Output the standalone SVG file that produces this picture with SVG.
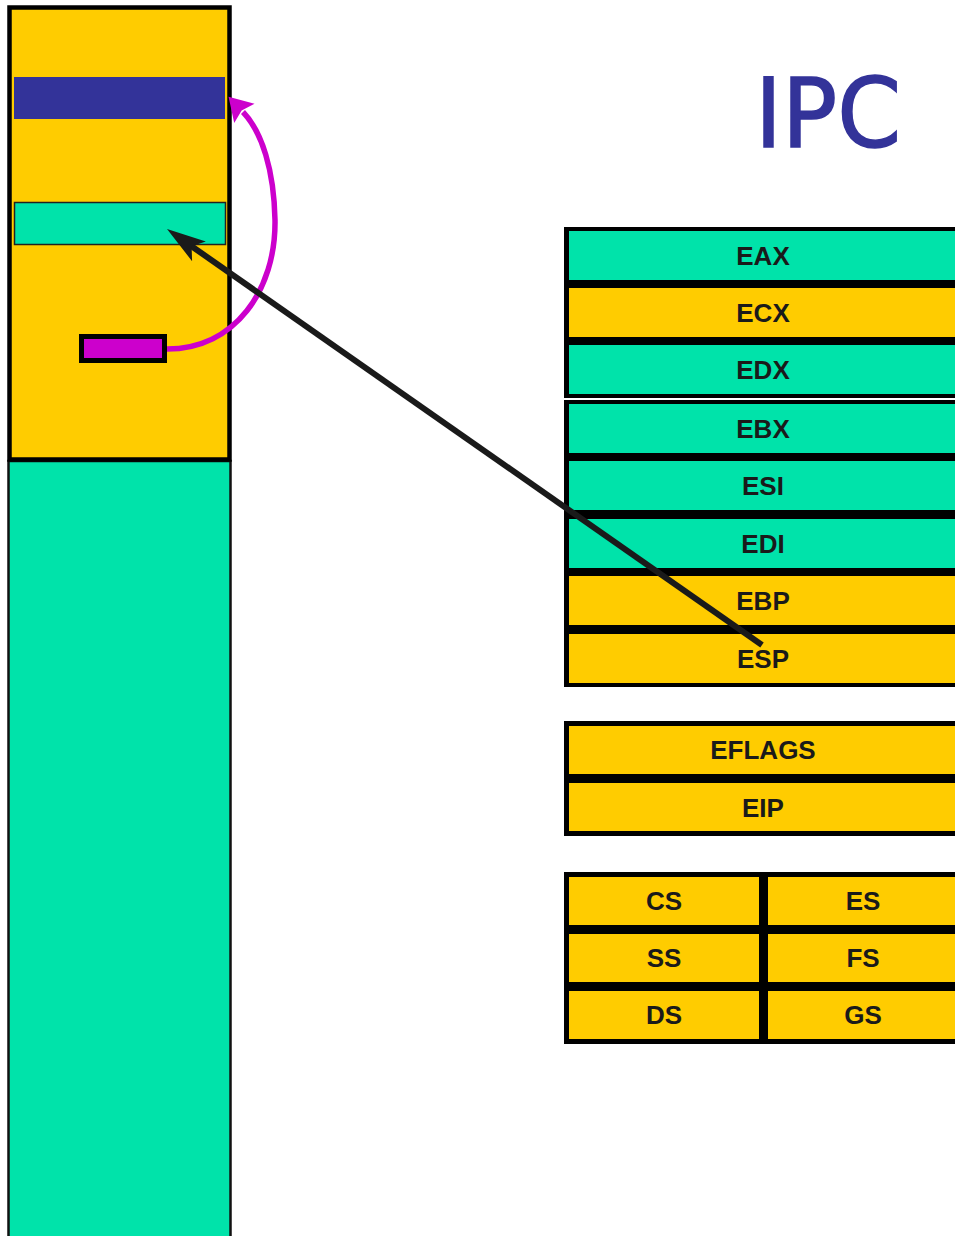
<svg xmlns="http://www.w3.org/2000/svg" width="955" height="1236" viewBox="0 0 955 1236">
<defs>
<style>
.yel{fill:#FFCC00}
.grn{fill:#00E3AA}
.blk{fill:#000}
.lbl{font-family:"Liberation Sans",Arial,sans-serif;font-weight:bold;font-size:26px;fill:#1a1a1a;text-anchor:middle}
</style>
<marker id="ah-black" markerUnits="userSpaceOnUse" markerWidth="60" markerHeight="40" viewBox="-25 -20 50 40" refX="0" refY="0" orient="auto">
<path d="M20,0 L-19,-12 L-10,0 L-19,12 Z" fill="#1a1a1a"/>
</marker>
<marker id="ah-mag" markerUnits="userSpaceOnUse" markerWidth="60" markerHeight="40" viewBox="-10 -20 40 40" refX="2" refY="0" orient="auto">
<path d="M23,0 L0,-14 L4,0 L0,14 Z" fill="#CC00CC"/>
</marker>
</defs>
<rect width="955" height="1236" fill="#fff"/>

<g id="title">
<text x="755" y="147" font-family="'DejaVu Sans',Tahoma,sans-serif" font-size="96" fill="#333399" stroke="#333399" stroke-width="1.5" textLength="146" lengthAdjust="spacingAndGlyphs">IPC</text>
</g>

<g id="memory">
<rect x="8.5" y="461" width="222" height="790" class="grn" stroke="#111" stroke-width="2.5"/>
<rect x="9.5" y="7.5" width="220" height="452" class="yel" stroke="#000" stroke-width="4.5"/>
</g>
<g id="blue-slot"><rect x="14" y="77" width="211" height="42" fill="#333399"/></g>
<g id="green-slot"><rect x="14.5" y="202.5" width="211" height="42" class="grn" stroke="#222" stroke-width="1.5"/></g>
<g id="pointer-box"><rect x="81.5" y="336.5" width="83" height="24" fill="#CC00CC" stroke="#000" stroke-width="5"/></g>

<g id="gp-regs-1">
<rect x="564" y="227" width="400" height="171" class="blk"/>
<rect x="569" y="231" width="400" height="49" class="grn"/>
<rect x="569" y="288" width="400" height="49" class="yel"/>
<rect x="569" y="345" width="400" height="49" class="grn"/>
<text x="763" y="265" class="lbl">EAX</text>
<text x="763" y="322" class="lbl">ECX</text>
<text x="763" y="379" class="lbl">EDX</text>
</g>
<g id="gp-regs-2">
<rect x="564" y="400" width="400" height="287" class="blk"/>
<rect x="569" y="404" width="400" height="49" class="grn"/>
<rect x="569" y="461" width="400" height="49" class="grn"/>
<rect x="569" y="519" width="400" height="49" class="grn"/>
<rect x="569" y="576" width="400" height="49" class="yel"/>
<rect x="569" y="634" width="400" height="49" class="yel"/>
<text x="763" y="438" class="lbl">EBX</text>
<text x="763" y="495" class="lbl">ESI</text>
<text x="763" y="553" class="lbl">EDI</text>
<text x="763" y="610" class="lbl">EBP</text>
<text x="763" y="668" class="lbl">ESP</text>
</g>
<g id="ctrl-regs">
<rect x="564" y="721" width="400" height="115" class="blk"/>
<rect x="569" y="726" width="400" height="48" class="yel"/>
<rect x="569" y="783" width="400" height="48" class="yel"/>
<text x="763" y="759" class="lbl">EFLAGS</text>
<text x="763" y="817" class="lbl">EIP</text>
</g>
<g id="seg-regs">
<rect x="564" y="872" width="400" height="172" class="blk"/>
<rect x="569" y="877" width="190" height="48" class="yel"/>
<rect x="569" y="934" width="190" height="48" class="yel"/>
<rect x="569" y="991" width="190" height="48" class="yel"/>
<rect x="768" y="877" width="200" height="48" class="yel"/>
<rect x="768" y="934" width="200" height="48" class="yel"/>
<rect x="768" y="991" width="200" height="48" class="yel"/>
<text x="664" y="910" class="lbl">CS</text>
<text x="664" y="967" class="lbl">SS</text>
<text x="664" y="1024" class="lbl">DS</text>
<text x="863" y="910" class="lbl">ES</text>
<text x="863" y="967" class="lbl">FS</text>
<text x="863" y="1024" class="lbl">GS</text>
</g>

<g id="connectors">
<path d="M167,349 C235,349 276,290 275,220 C274,170 262,132 243,112" fill="none" stroke="#CC00CC" stroke-width="5.5" marker-end="url(#ah-mag)"/>
<path d="M762,645 L183.4,240.5" fill="none" stroke="#1a1a1a" stroke-width="6" marker-end="url(#ah-black)"/>
</g>
</svg>
